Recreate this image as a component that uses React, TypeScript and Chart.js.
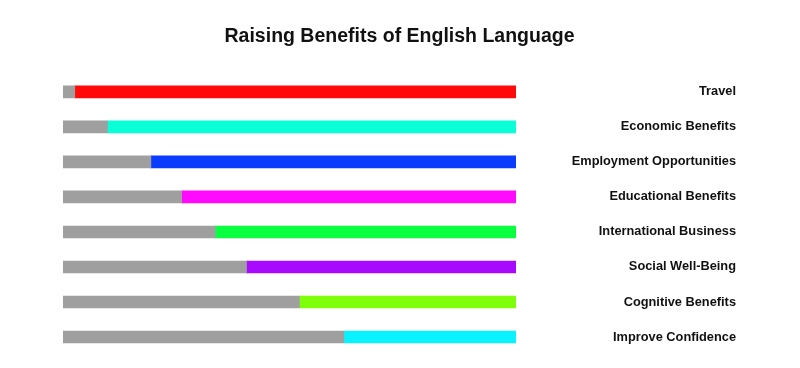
import React, { useEffect, useRef } from "react";
import { Chart, registerables } from "chart.js";

Chart.register(...registerables);

const categories = [
  "Travel",
  "Economic Benefits",
  "Employment Opportunities",
  "Educational Benefits",
  "International Business",
  "Social Well-Being",
  "Cognitive Benefits",
  "Improve Confidence",
];
const grayValues = [2.6, 9.8, 19.4, 26.2, 33.6, 40.5, 52.2, 62];
const colorValues = [97.4, 90.2, 80.6, 73.8, 66.4, 59.5, 47.8, 38];
const barColors = [
  "#ff0a0a",
  "#0affd8",
  "#0a3cff",
  "#ff0aff",
  "#0aff40",
  "#a80aff",
  "#80ff0a",
  "#0af2ff",
];
const grayColor = "#9f9f9f";
const titleText = "Raising Benefits of English Language";

export default function App() {
  const ref = useRef<HTMLCanvasElement>(null);
  useEffect(() => {
    if (!ref.current) return;
    const chart = new Chart(ref.current, {
      type: "bar",
      data: {
        labels: categories,
        datasets: [
          {
            data: grayValues,
            backgroundColor: grayColor,
            borderWidth: 0,
            barThickness: 12,
          },
          {
            data: colorValues,
            backgroundColor: barColors,
            borderWidth: 0,
            barThickness: 12,
          },
        ],
      },
      options: {
        indexAxis: "y",
        animation: false,
        responsive: false,
        layout: { padding: { left: 55, right: 56, top: 0, bottom: 5.5 } },
        plugins: {
          legend: { display: false },
          tooltip: { enabled: false },
          title: {
            display: true,
            text: titleText,
            color: "#111",
            font: { family: "'Liberation Sans', Arial, sans-serif", size: 19.5, weight: "bold" },
            padding: { top: 17, bottom: 26 },
          },
        },
        scales: {
          x: {
            stacked: true,
            min: 0,
            max: 100,
            display: false,
          },
          y: {
            stacked: true,
            position: "right",
            grid: { display: false, drawTicks: false },
            border: { display: false },
            afterFit: (scale: any) => {
              scale.width = 220;
              scale.paddingTop = 0;
              scale.paddingBottom = 0;
            },
            ticks: {
              crossAlign: "far",
              padding: 56,
              color: "#111",
              font: { family: "'Liberation Sans', Arial, sans-serif", size: 12.8, weight: "bold" },
            },
          },
        },
      },
    });
    return () => chart.destroy();
  }, []);
  return (
    <div style={{ width: 784, height: 352 }}>
      <canvas ref={ref} width={784} height={352} style={{ display: "block" }} />
    </div>
  );
}
